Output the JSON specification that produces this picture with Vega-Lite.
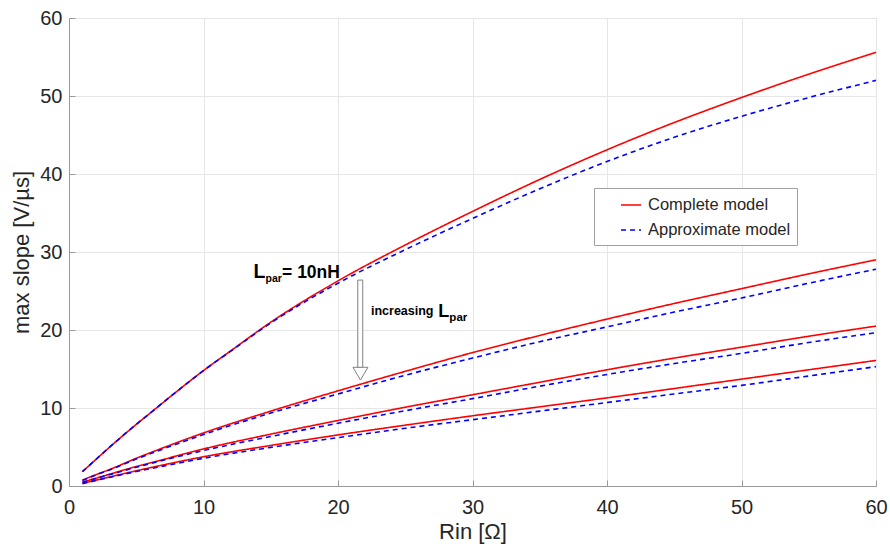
{
  "$schema": "https://vega.github.io/schema/vega-lite/v6.json",
  "width": 807,
  "height": 468,
  "autosize": {"type": "none"},
  "padding": {"left": 69, "top": 18, "right": 14, "bottom": 61},
  "background": "white",
  "config": {
    "view": {"stroke": "#9a9a9a", "strokeWidth": 1},
    "font": "Liberation Sans",
    "axis": {
      "labelFont": "Liberation Sans",
      "titleFont": "Liberation Sans",
      "labelColor": "#262626",
      "titleColor": "#262626",
      "labelFontSize": 20,
      "titleFontSize": 22,
      "titleFontWeight": "normal",
      "gridColor": "#e6e6e6",
      "gridWidth": 1,
      "domainColor": "#9a9a9a",
      "tickColor": "#9a9a9a",
      "tickSize": -6
    }
  },
  "datasets": {
    "curves": [
      {"curve": 1, "model": "Complete model", "rin": 1, "slope": 1.85},
      {"curve": 1, "model": "Complete model", "rin": 2, "slope": 3.4},
      {"curve": 1, "model": "Complete model", "rin": 3, "slope": 4.95},
      {"curve": 1, "model": "Complete model", "rin": 4, "slope": 6.45},
      {"curve": 1, "model": "Complete model", "rin": 5, "slope": 7.9},
      {"curve": 1, "model": "Complete model", "rin": 6, "slope": 9.3},
      {"curve": 1, "model": "Complete model", "rin": 8, "slope": 12.1},
      {"curve": 1, "model": "Complete model", "rin": 10, "slope": 14.8},
      {"curve": 1, "model": "Complete model", "rin": 12, "slope": 17.3},
      {"curve": 1, "model": "Complete model", "rin": 15, "slope": 21.0},
      {"curve": 1, "model": "Complete model", "rin": 20, "slope": 26.3},
      {"curve": 1, "model": "Complete model", "rin": 25, "slope": 30.9},
      {"curve": 1, "model": "Complete model", "rin": 30, "slope": 35.2},
      {"curve": 1, "model": "Complete model", "rin": 35, "slope": 39.3},
      {"curve": 1, "model": "Complete model", "rin": 40, "slope": 43.1},
      {"curve": 1, "model": "Complete model", "rin": 45, "slope": 46.6},
      {"curve": 1, "model": "Complete model", "rin": 50, "slope": 49.8},
      {"curve": 1, "model": "Complete model", "rin": 55, "slope": 52.8},
      {"curve": 1, "model": "Complete model", "rin": 60, "slope": 55.6},
      {"curve": 1, "model": "Approximate model", "rin": 1, "slope": 1.85},
      {"curve": 1, "model": "Approximate model", "rin": 2, "slope": 3.4},
      {"curve": 1, "model": "Approximate model", "rin": 3, "slope": 4.95},
      {"curve": 1, "model": "Approximate model", "rin": 4, "slope": 6.45},
      {"curve": 1, "model": "Approximate model", "rin": 5, "slope": 7.9},
      {"curve": 1, "model": "Approximate model", "rin": 6, "slope": 9.3},
      {"curve": 1, "model": "Approximate model", "rin": 8, "slope": 12.1},
      {"curve": 1, "model": "Approximate model", "rin": 10, "slope": 14.8},
      {"curve": 1, "model": "Approximate model", "rin": 12, "slope": 17.25},
      {"curve": 1, "model": "Approximate model", "rin": 15, "slope": 20.9},
      {"curve": 1, "model": "Approximate model", "rin": 20, "slope": 26.0},
      {"curve": 1, "model": "Approximate model", "rin": 25, "slope": 30.3},
      {"curve": 1, "model": "Approximate model", "rin": 30, "slope": 34.3},
      {"curve": 1, "model": "Approximate model", "rin": 35, "slope": 38.1},
      {"curve": 1, "model": "Approximate model", "rin": 40, "slope": 41.6},
      {"curve": 1, "model": "Approximate model", "rin": 45, "slope": 44.7},
      {"curve": 1, "model": "Approximate model", "rin": 50, "slope": 47.4},
      {"curve": 1, "model": "Approximate model", "rin": 55, "slope": 49.8},
      {"curve": 1, "model": "Approximate model", "rin": 60, "slope": 52.0},
      {"curve": 2, "model": "Complete model", "rin": 1, "slope": 0.75},
      {"curve": 2, "model": "Complete model", "rin": 2, "slope": 1.45},
      {"curve": 2, "model": "Complete model", "rin": 3, "slope": 2.1},
      {"curve": 2, "model": "Complete model", "rin": 5, "slope": 3.55},
      {"curve": 2, "model": "Complete model", "rin": 7, "slope": 4.9},
      {"curve": 2, "model": "Complete model", "rin": 10, "slope": 6.8},
      {"curve": 2, "model": "Complete model", "rin": 15, "slope": 9.6},
      {"curve": 2, "model": "Complete model", "rin": 20, "slope": 12.2},
      {"curve": 2, "model": "Complete model", "rin": 25, "slope": 14.7},
      {"curve": 2, "model": "Complete model", "rin": 30, "slope": 17.1},
      {"curve": 2, "model": "Complete model", "rin": 35, "slope": 19.3},
      {"curve": 2, "model": "Complete model", "rin": 40, "slope": 21.4},
      {"curve": 2, "model": "Complete model", "rin": 45, "slope": 23.4},
      {"curve": 2, "model": "Complete model", "rin": 50, "slope": 25.3},
      {"curve": 2, "model": "Complete model", "rin": 55, "slope": 27.2},
      {"curve": 2, "model": "Complete model", "rin": 60, "slope": 29.0},
      {"curve": 2, "model": "Approximate model", "rin": 1, "slope": 0.7},
      {"curve": 2, "model": "Approximate model", "rin": 2, "slope": 1.4},
      {"curve": 2, "model": "Approximate model", "rin": 3, "slope": 2.05},
      {"curve": 2, "model": "Approximate model", "rin": 5, "slope": 3.45},
      {"curve": 2, "model": "Approximate model", "rin": 7, "slope": 4.75},
      {"curve": 2, "model": "Approximate model", "rin": 10, "slope": 6.6},
      {"curve": 2, "model": "Approximate model", "rin": 15, "slope": 9.35},
      {"curve": 2, "model": "Approximate model", "rin": 20, "slope": 11.8},
      {"curve": 2, "model": "Approximate model", "rin": 25, "slope": 14.2},
      {"curve": 2, "model": "Approximate model", "rin": 30, "slope": 16.4},
      {"curve": 2, "model": "Approximate model", "rin": 35, "slope": 18.5},
      {"curve": 2, "model": "Approximate model", "rin": 40, "slope": 20.4},
      {"curve": 2, "model": "Approximate model", "rin": 45, "slope": 22.3},
      {"curve": 2, "model": "Approximate model", "rin": 50, "slope": 24.1},
      {"curve": 2, "model": "Approximate model", "rin": 55, "slope": 26.0},
      {"curve": 2, "model": "Approximate model", "rin": 60, "slope": 27.8},
      {"curve": 3, "model": "Complete model", "rin": 1, "slope": 0.5},
      {"curve": 3, "model": "Complete model", "rin": 3, "slope": 1.5},
      {"curve": 3, "model": "Complete model", "rin": 5, "slope": 2.5},
      {"curve": 3, "model": "Complete model", "rin": 7, "slope": 3.4},
      {"curve": 3, "model": "Complete model", "rin": 10, "slope": 4.75},
      {"curve": 3, "model": "Complete model", "rin": 15, "slope": 6.65},
      {"curve": 3, "model": "Complete model", "rin": 20, "slope": 8.4},
      {"curve": 3, "model": "Complete model", "rin": 25, "slope": 10.1},
      {"curve": 3, "model": "Complete model", "rin": 30, "slope": 11.7},
      {"curve": 3, "model": "Complete model", "rin": 35, "slope": 13.3},
      {"curve": 3, "model": "Complete model", "rin": 40, "slope": 14.9},
      {"curve": 3, "model": "Complete model", "rin": 45, "slope": 16.4},
      {"curve": 3, "model": "Complete model", "rin": 50, "slope": 17.8},
      {"curve": 3, "model": "Complete model", "rin": 55, "slope": 19.2},
      {"curve": 3, "model": "Complete model", "rin": 60, "slope": 20.5},
      {"curve": 3, "model": "Approximate model", "rin": 1, "slope": 0.45},
      {"curve": 3, "model": "Approximate model", "rin": 3, "slope": 1.45},
      {"curve": 3, "model": "Approximate model", "rin": 5, "slope": 2.4},
      {"curve": 3, "model": "Approximate model", "rin": 7, "slope": 3.3},
      {"curve": 3, "model": "Approximate model", "rin": 10, "slope": 4.55},
      {"curve": 3, "model": "Approximate model", "rin": 15, "slope": 6.35},
      {"curve": 3, "model": "Approximate model", "rin": 20, "slope": 8.05},
      {"curve": 3, "model": "Approximate model", "rin": 25, "slope": 9.65},
      {"curve": 3, "model": "Approximate model", "rin": 30, "slope": 11.2},
      {"curve": 3, "model": "Approximate model", "rin": 35, "slope": 12.8},
      {"curve": 3, "model": "Approximate model", "rin": 40, "slope": 14.3},
      {"curve": 3, "model": "Approximate model", "rin": 45, "slope": 15.7},
      {"curve": 3, "model": "Approximate model", "rin": 50, "slope": 17.0},
      {"curve": 3, "model": "Approximate model", "rin": 55, "slope": 18.4},
      {"curve": 3, "model": "Approximate model", "rin": 60, "slope": 19.65},
      {"curve": 4, "model": "Complete model", "rin": 1, "slope": 0.35},
      {"curve": 4, "model": "Complete model", "rin": 3, "slope": 1.15},
      {"curve": 4, "model": "Complete model", "rin": 5, "slope": 1.95},
      {"curve": 4, "model": "Complete model", "rin": 7, "slope": 2.7},
      {"curve": 4, "model": "Complete model", "rin": 10, "slope": 3.75},
      {"curve": 4, "model": "Complete model", "rin": 15, "slope": 5.2},
      {"curve": 4, "model": "Complete model", "rin": 20, "slope": 6.55},
      {"curve": 4, "model": "Complete model", "rin": 25, "slope": 7.8},
      {"curve": 4, "model": "Complete model", "rin": 30, "slope": 9.0},
      {"curve": 4, "model": "Complete model", "rin": 35, "slope": 10.15},
      {"curve": 4, "model": "Complete model", "rin": 40, "slope": 11.3},
      {"curve": 4, "model": "Complete model", "rin": 45, "slope": 12.5},
      {"curve": 4, "model": "Complete model", "rin": 50, "slope": 13.7},
      {"curve": 4, "model": "Complete model", "rin": 55, "slope": 14.9},
      {"curve": 4, "model": "Complete model", "rin": 60, "slope": 16.1},
      {"curve": 4, "model": "Approximate model", "rin": 1, "slope": 0.3},
      {"curve": 4, "model": "Approximate model", "rin": 3, "slope": 1.1},
      {"curve": 4, "model": "Approximate model", "rin": 5, "slope": 1.85},
      {"curve": 4, "model": "Approximate model", "rin": 7, "slope": 2.55},
      {"curve": 4, "model": "Approximate model", "rin": 10, "slope": 3.55},
      {"curve": 4, "model": "Approximate model", "rin": 15, "slope": 4.95},
      {"curve": 4, "model": "Approximate model", "rin": 20, "slope": 6.2},
      {"curve": 4, "model": "Approximate model", "rin": 25, "slope": 7.4},
      {"curve": 4, "model": "Approximate model", "rin": 30, "slope": 8.5},
      {"curve": 4, "model": "Approximate model", "rin": 35, "slope": 9.6},
      {"curve": 4, "model": "Approximate model", "rin": 40, "slope": 10.7},
      {"curve": 4, "model": "Approximate model", "rin": 45, "slope": 11.8},
      {"curve": 4, "model": "Approximate model", "rin": 50, "slope": 12.9},
      {"curve": 4, "model": "Approximate model", "rin": 55, "slope": 14.1},
      {"curve": 4, "model": "Approximate model", "rin": 60, "slope": 15.3}
    ]
  },
  "layer": [
    {
      "data": {"name": "curves"},
      "transform": [{"filter": "datum.model === 'Complete model'"}],
      "mark": {"type": "line", "interpolate": "monotone", "strokeWidth": 1.6, "clip": true},
      "encoding": {
        "x": {
          "field": "rin", "type": "quantitative",
          "scale": {"domain": [0, 60], "nice": false, "zero": false},
          "axis": {"values": [0, 10, 20, 30, 40, 50, 60], "title": "Rin [Ω]", "labelPadding": 17, "titlePadding": 4, "labelFlush": false}
        },
        "y": {
          "field": "slope", "type": "quantitative",
          "scale": {"domain": [0, 60], "nice": false},
          "axis": {"values": [0, 10, 20, 30, 40, 50, 60], "title": "max slope [V/µs]", "labelPadding": 13, "titlePadding": 6, "labelFlush": false}
        },
        "detail": {"field": "curve"},
        "color": {
          "field": "model", "type": "nominal",
          "scale": {"domain": ["Complete model", "Approximate model"], "range": ["#ff0000", "#0000ff"]},
          "legend": {
            "title": null, "orient": "none", "legendX": 525, "legendY": 170,
            "strokeColor": "#a0a0a0", "fillColor": "white", "padding": 6,
            "symbolType": "stroke", "symbolSize": 400, "symbolStrokeWidth": 1.5,
            "symbolOffset": 20, "labelOffset": 6, "rowPadding": 5,
            "labelFontSize": 16.5, "labelFont": "Liberation Sans", "labelColor": "#262626", "labelLimit": 300
          }
        },
        "strokeDash": {
          "field": "model", "type": "nominal",
          "scale": {"domain": ["Complete model", "Approximate model"], "range": [[1, 0], [5, 4]]},
          "legend": {"title": null}
        }
      }
    },
    {
      "data": {"name": "curves"},
      "transform": [{"filter": "datum.model === 'Approximate model'"}],
      "mark": {"type": "line", "interpolate": "monotone", "strokeWidth": 1.6, "clip": true},
      "encoding": {
        "x": {"field": "rin", "type": "quantitative"},
        "y": {"field": "slope", "type": "quantitative"},
        "detail": {"field": "curve"},
        "color": {"field": "model", "type": "nominal"},
        "strokeDash": {"field": "model", "type": "nominal"}
      }
    },
    {
      "data": {"values": [{"x1": 21.47, "x2": 21.84, "y1": 26.4, "y2": 15.2}]},
      "mark": {"type": "rect", "fill": "white", "stroke": "#808080", "strokeWidth": 1},
      "encoding": {
        "x": {"field": "x1", "type": "quantitative"},
        "x2": {"field": "x2"},
        "y": {"field": "y1", "type": "quantitative"},
        "y2": {"field": "y2"}
      }
    },
    {
      "data": {"values": [{"x": 21.67, "y": 14.4}]},
      "mark": {"type": "point", "shape": "M-1,-0.85L1,-0.85L0,0.85Z", "size": 225, "filled": true, "fill": "white", "stroke": "#808080", "strokeWidth": 1, "opacity": 1},
      "encoding": {
        "x": {"field": "x", "type": "quantitative"},
        "y": {"field": "y", "type": "quantitative"}
      }
    },
    {
      "data": {"values": [{"t": "L", "x": 13.72, "y": 26.63}]},
      "mark": {"type": "text", "align": "left", "baseline": "alphabetic", "fontSize": 19.5, "fontWeight": "bold", "font": "Liberation Sans", "color": "#000000"},
      "encoding": {"x": {"field": "x", "type": "quantitative"}, "y": {"field": "y", "type": "quantitative"}, "text": {"field": "t"}}
    },
    {
      "data": {"values": [{"t": "par", "x": 14.61, "y": 26.15}]},
      "mark": {"type": "text", "align": "left", "baseline": "alphabetic", "fontSize": 10.5, "fontWeight": "bold", "font": "Liberation Sans", "color": "#000000"},
      "encoding": {"x": {"field": "x", "type": "quantitative"}, "y": {"field": "y", "type": "quantitative"}, "text": {"field": "t"}}
    },
    {
      "data": {"values": [{"t": "= 10nH", "x": 15.84, "y": 26.73}]},
      "mark": {"type": "text", "align": "left", "baseline": "alphabetic", "fontSize": 17.5, "fontWeight": "bold", "font": "Liberation Sans", "color": "#000000"},
      "encoding": {"x": {"field": "x", "type": "quantitative"}, "y": {"field": "y", "type": "quantitative"}, "text": {"field": "t"}}
    },
    {
      "data": {"values": [{"t": "increasing", "x": 22.45, "y": 21.92}]},
      "mark": {"type": "text", "align": "left", "baseline": "alphabetic", "fontSize": 12.5, "fontWeight": "bold", "font": "Liberation Sans", "color": "#000000"},
      "encoding": {"x": {"field": "x", "type": "quantitative"}, "y": {"field": "y", "type": "quantitative"}, "text": {"field": "t"}}
    },
    {
      "data": {"values": [{"t": "L", "x": 27.45, "y": 21.73}]},
      "mark": {"type": "text", "align": "left", "baseline": "alphabetic", "fontSize": 18, "fontWeight": "bold", "font": "Liberation Sans", "color": "#000000"},
      "encoding": {"x": {"field": "x", "type": "quantitative"}, "y": {"field": "y", "type": "quantitative"}, "text": {"field": "t"}}
    },
    {
      "data": {"values": [{"t": "par", "x": 28.28, "y": 21.1}]},
      "mark": {"type": "text", "align": "left", "baseline": "alphabetic", "fontSize": 11.5, "fontWeight": "bold", "font": "Liberation Sans", "color": "#000000"},
      "encoding": {"x": {"field": "x", "type": "quantitative"}, "y": {"field": "y", "type": "quantitative"}, "text": {"field": "t"}}
    }
  ]
}
